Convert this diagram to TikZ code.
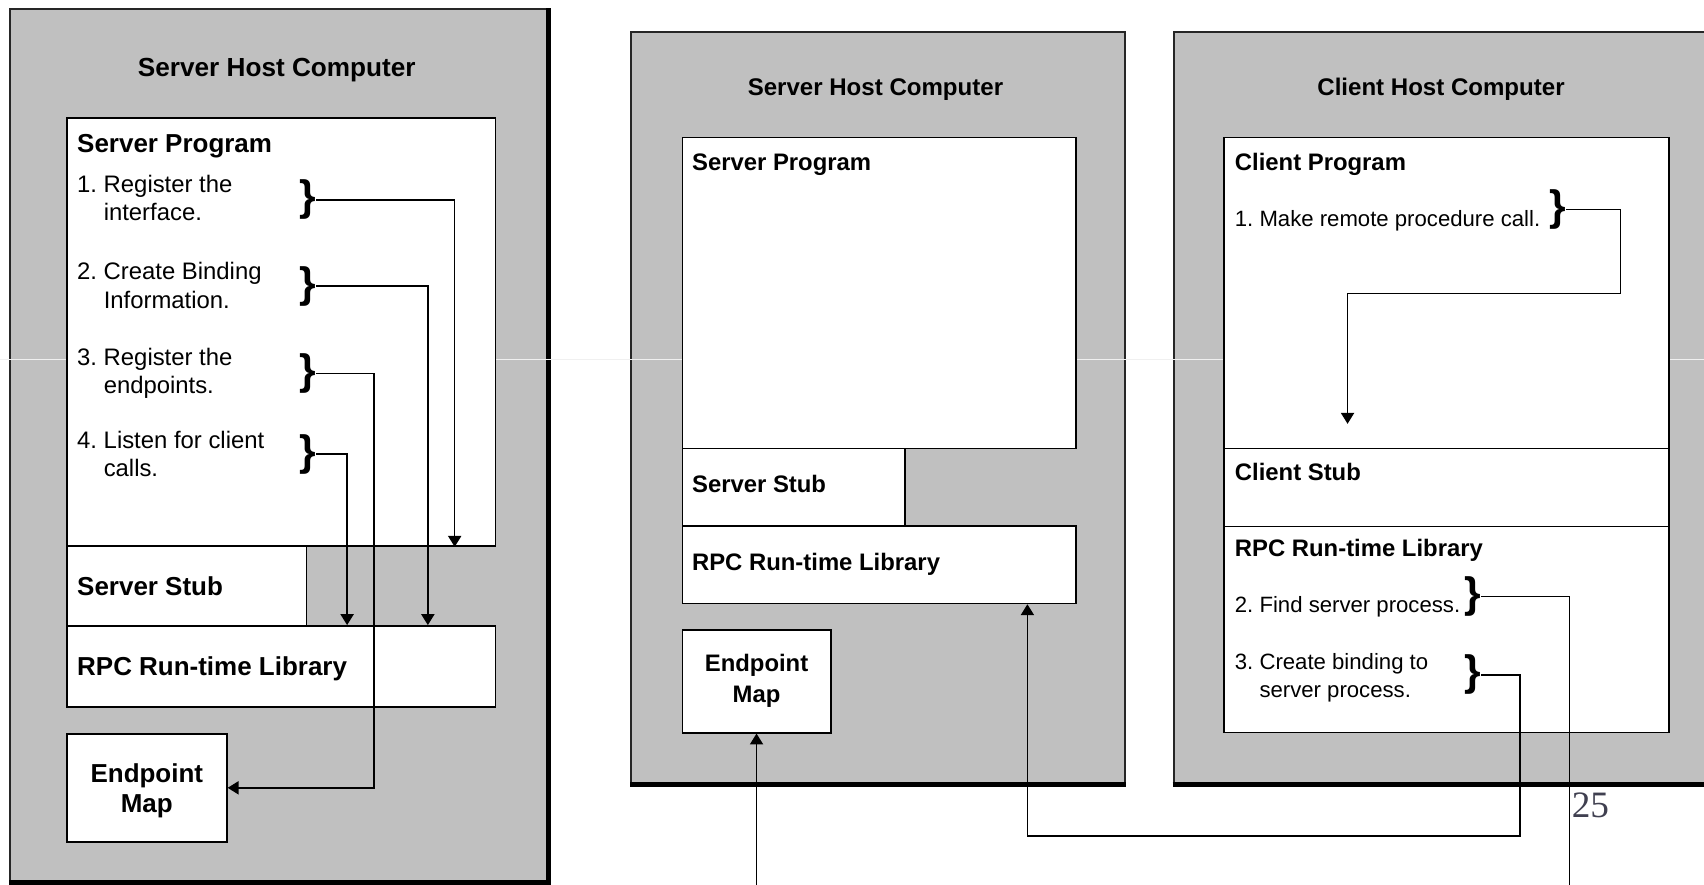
\documentclass[tikz,border=0pt]{standalone}
\usepackage{fontspec}
\setmainfont{Liberation Sans}
\newfontfamily\pagefont{Liberation Serif}
\usetikzlibrary{arrows.meta}
\usetikzlibrary{fit}
\definecolor{hostgray}{HTML}{C0C0C0}
\definecolor{pagenum}{RGB}{64,64,80}

\begin{document}
\begin{tikzpicture}[x=0.02cm, y=-0.02cm,
  host/.style={draw=black!85, fill=hostgray, line width=1pt, inner sep=0pt},
  box/.style={draw=black, fill=white, line width=0.9pt, inner sep=0pt},
  title/.style={font=\fontsize{#1}{16}\selectfont\bfseries, anchor=base, inner sep=0pt},
  title/.default=12.6,
  head/.style={font=\fontsize{#1}{16}\selectfont\bfseries, anchor=base west, inner sep=0pt},
  head/.default=12.5,
  mapt/.style={font=\fontsize{#1}{16}\selectfont\bfseries, align=center, anchor=base, inner sep=0pt},
  mapt/.default=12.5,
  item/.style={font=\fontsize{#1}{14.8}\selectfont, align=left, anchor=base west, inner sep=0pt},
  item/.default=11.6,
  brc/.style={font=\fontsize{22.3}{24}\selectfont\bfseries, inner sep=0pt},
  conn/.style={line width=0.8pt},
  arr/.style={conn, -{Triangle[width=0.24cm,length=0.2cm]}}]
\useasboundingbox (0,0) rectangle (1568,814);

% Host computers
\node[host, fit={(9.2,8.6) (503.8,811.3)}] (lhost) {};
\node[host, fit={(580.7,29.2) (1035.3,720.8)}] (mhost) {};
\node[host, fit={(1080,29.2) (1590,720.8)}] (rhost) {};
\draw[line width=2.4pt] (lhost.south west) -- (lhost.south east) -- (lhost.north east);
\draw[line width=2.4pt] (mhost.south west) -- (mhost.south east);
\draw[line width=2.4pt] (rhost.south west) -- (rhost.south east);
\draw[white!88!gray, line width=0.4pt] (0,330.5) -- (1568,330.5);

% Left: server side, steps
\node[box, fit={(61.5,108.9) (455.9,502.4)}] (lprog) {};
\node[box, fit={(61.5,502.4) (282,576)}] (lstub) {};
\node[box, fit={(61.5,576) (455.9,650.3)}] (lrpc) {};
\node[box, fit={(61.5,675.4) (208.7,774.5)}] (lmap) {};
\node[title=13.7] (ltitle) at (254.7,70) {Server Host Computer};
\node[head=13.6] (lprogt) at (70.7,140.5) {Server Program};
\node[head=13.6] (lstubt) at (70.7,547.6) {Server Stub};
\node[head=13.6] (lrpct) at (70.7,622) {RPC Run-time Library};
\node[mapt=13.6] (lmapt) at (lmap.center |- 0,747.8) {Endpoint\\Map};
% y is the baseline of the second line
\foreach \i/\y/\a/\b/\t in {1/202.7/Register the/interface./184,
    2/283.6/Create Binding/Information./263.2,
    3/362.1/Register the/endpoints./343.5,
    4/438.8/Listen for client/calls./417.8} {
  \node[item=12.5] (lstep\i) at (70.7,\y) {\i.~\a\\\phantom{\i.~}\b};
  \node[brc] (lb\i) at (283,\t) {\}};
}
\draw[arr] (lb1.east) -| (418.4,0 |- lprog.south);
\draw[arr] (lb2.east) -| (393.7,0 |- lrpc.north);
\draw[arr] (lb3.east) -| (344.1,0 |- lmap.east) -- (lmap.east);
\draw[arr] (lb4.east) -| (319.4,0 |- lrpc.north);

% Middle: server host
\node[box, fit={(627.9,126.4) (990.2,412.6)}] (mprog) {};
\node[box, fit={(627.9,412.6) (832.8,484)}] (mstub) {};
\node[box, fit={(627.9,484) (990.2,555.2)}] (mrpc) {};
\node[box, fit={(627.9,579.7) (764.4,674.2)}] (mmap) {};
\node[title] (mtitle) at (805.6,88.3) {Server Host Computer};
\node[head] (mprogt) at (636.5,156.7) {Server Program};
\node[head] (mstubt) at (636.5,453.6) {Server Stub};
\node[head] (mrpct) at (636.5,524.8) {RPC Run-time Library};
\node[mapt] (mmapt) at (mmap.center |- 0,646) {Endpoint\\Map};

% Right: client host
\node[box, fit={(1126,126.4) (1535.6,412.6)}] (rprog) {};
\node[box, fit={(1126,412.6) (1535.6,484.6)}] (rstub) {};
\node[box, fit={(1126,484.6) (1535.6,674)}] (rrpc) {};
\node[title] (rtitle) at (1326,88.3) {Client Host Computer};
\node[head] (rprogt) at (1136,156.7) {Client Program};
\node[head] (rstubt) at (1136,441.9) {Client Stub};
\node[head] (rrpct) at (1136,512.5) {RPC Run-time Library};
\node[item] (rstep1) at (1136,208.2) {1.~Make remote procedure call.};
\node[item] (rstep2) at (1136,564) {2.~Find server process.};
\node[item] (rstep3) at (1136,642.2) {3.~Create binding to\\\phantom{3.~}server process.};
\node[brc] (rb1) at (1433,192.6) {\}};
\node[brc] (rb2) at (1355,549) {\}};
\node[brc] (rb3) at (1355,621) {\}};

% Calls between the hosts
\coordinate (callend) at (1240,390);
\coordinate (lookend) at (1444,830);
\coordinate (mapfeed) at (696.15,830);
\draw[arr] (rb1.east) -| (1491,270) -| (callend);
\draw[conn] (rb2.east) -| (lookend);
\draw[arr] (mapfeed) -- (mmap.south);
\draw[arr] (rb3.east) -| (1398.7,769.3) -| (945.4,0 |- mrpc.south);

\node[font=\pagefont\fontsize{19.5}{20}\selectfont, text=pagenum, anchor=base west,
  inner sep=0pt] (pgno) at (1446,752) {25};
\end{tikzpicture}
\end{document}
